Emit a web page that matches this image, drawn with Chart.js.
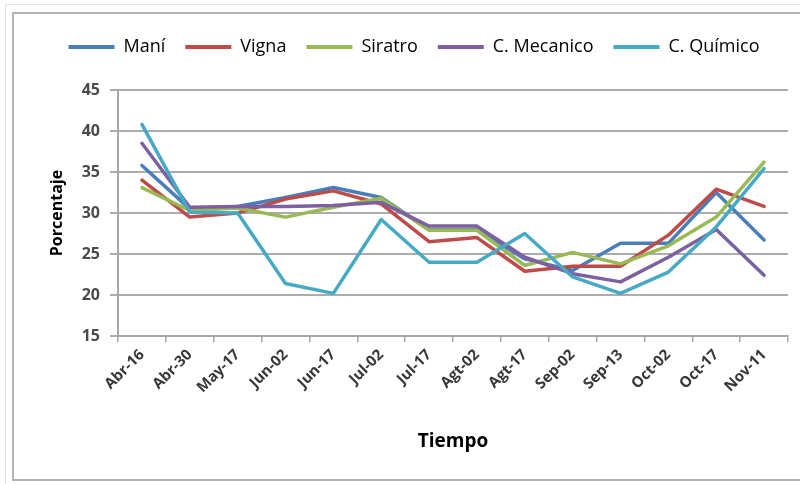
<!DOCTYPE html>
<html>
<head>
<meta charset="utf-8">
<script src="https://cdn.jsdelivr.net/npm/chart.js@4/dist/chart.umd.min.js"></script>
<style>
  html, body { margin: 0; padding: 0; background: #ffffff; }
  #wrap { position: relative; width: 800px; height: 484px; }
</style>
</head>
<body>
<div id="wrap"><canvas id="c" width="800" height="484"></canvas></div>
<script>
// Fechas de muestreo
const fechas = ['Abr-16', 'Abr-30', 'May-17', 'Jun-02', 'Jun-17', 'Jul-02', 'Jul-17',
                'Agt-02', 'Agt-17', 'Sep-02', 'Sep-13', 'Oct-02', 'Oct-17', 'Nov-11'];

// Porcentaje por tratamiento
const mani      = [35.8, 30.5, 30.8, 31.9, 33.1, 31.9, 28.0, 28.0, 24.4, 23.0, 26.3, 26.3, 32.5, 26.7];
const vigna     = [34.0, 29.5, 30.0, 31.7, 32.7, 31.1, 26.5, 27.0, 22.9, 23.5, 23.5, 27.3, 32.9, 30.8];
const siratro   = [33.1, 30.3, 30.6, 29.5, 30.7, 31.8, 27.9, 27.9, 23.6, 25.2, 23.8, 26.0, 29.5, 36.2];
const mecanico  = [38.5, 30.7, 30.8, 30.8, 30.9, 31.3, 28.4, 28.4, 24.6, 22.6, 21.6, 24.6, 28.0, 22.4];
const quimico   = [40.8, 30.1, 30.0, 21.4, 20.2, 29.2, 24.0, 24.0, 27.5, 22.2, 20.2, 22.8, 28.3, 35.4];

const series = [
  { label: 'Maní',        data: mani,     color: '#4a7ebb' },
  { label: 'Vigna',       data: vigna,    color: '#be4b48' },
  { label: 'Siratro',     data: siratro,  color: '#98b954' },
  { label: 'C. Mecanico', data: mecanico, color: '#7d60a0' },
  { label: 'C. Químico',  data: quimico,  color: '#46aac5' }
];

const FONT = '"Open Sans", Lato, "DejaVu Sans", sans-serif';

// Marco exterior del gráfico
const frame = {
  id: 'frame',
  beforeDraw(chart) {
    const ctx = chart.ctx;
    ctx.save();
    ctx.fillStyle = '#ffffff';
    ctx.fillRect(0, 0, chart.width, chart.height);
    ctx.strokeStyle = '#e4e4e4';
    ctx.lineWidth = 1;
    ctx.beginPath();
    ctx.moveTo(5.5, 484); ctx.lineTo(5.5, 4.5); ctx.lineTo(800, 4.5);
    ctx.stroke();
    ctx.strokeStyle = '#b4b4b4';
    ctx.lineWidth = 2;
    ctx.strokeRect(13, 13, 800, 467);
    ctx.restore();
  }
};

// Espacio extra bajo la leyenda
const legendGap = {
  id: 'legendGap',
  beforeInit(chart) {
    const fitLegend = chart.legend.fit;
    chart.legend.fit = function () {
      fitLegend.call(this);
      this.height += 24;
    };
  }
};

const chart = new Chart(document.getElementById('c'), {
  type: 'line',
  data: {
    labels: fechas,
    datasets: series.map((s, i) => ({
      label: s.label,
      data: s.data,
      borderColor: s.color,
      backgroundColor: s.color,
      borderWidth: 3.5,
      borderJoinStyle: 'round',
      borderCapStyle: 'round',
      pointRadius: 0,
      tension: 0,
      order: series.length - i
    }))
  },
  options: {
    responsive: false,
    animation: false,
    layout: { padding: { left: 40, right: 12, top: 18, bottom: 30 } },
    plugins: {
      tooltip: { enabled: false },
      legend: {
        position: 'top',
        labels: {
          boxWidth: 46,
          boxHeight: 4,
          padding: 20,
          color: '#383838',
          font: { family: FONT, size: 18 },
          generateLabels(chart) {
            return chart.data.datasets.map((d, i) => ({
              text: d.label,
              fillStyle: d.borderColor,
              strokeStyle: d.borderColor,
              lineWidth: 0,
              hidden: false,
              datasetIndex: i
            }));
          }
        }
      }
    },
    scales: {
      x: {
        offset: true,
        grid: {
          offset: true,
          drawOnChartArea: false,
          drawTicks: true,
          tickLength: 6,
          color: '#a8a8a8',
          lineWidth: 1.5
        },
        border: { color: '#a8a8a8', width: 2 },
        ticks: {
          autoSkip: false,
          minRotation: 45,
          maxRotation: 45,
          padding: 4,
          color: '#383838',
          font: { family: FONT, size: 15, weight: 'bold' }
        },
        title: {
          display: true,
          text: 'Tiempo',
          color: '#000000',
          padding: { top: 4, bottom: 1 },
          font: { family: FONT, size: 19, weight: 'bold' }
        },
        afterFit(scale) { scale.height = 118; }
      },
      y: {
        min: 15,
        max: 45,
        ticks: {
          stepSize: 5,
          padding: 10,
          color: '#4a4a4a',
          font: { family: FONT, size: 16, weight: 'bold' }
        },
        grid: {
          color: '#acacac',
          lineWidth: 2,
          tickLength: 8
        },
        border: { color: '#a8a8a8', width: 2 },
        title: {
          display: true,
          text: 'Porcentaje',
          color: '#000000',
          padding: { top: 8, bottom: 2 },
          font: { family: FONT, size: 16, weight: 'bold' }
        },
        afterFit(scale) { scale.width = 78; }
      }
    }
  },
  plugins: [frame, legendGap]
});
</script>
</body>
</html>
